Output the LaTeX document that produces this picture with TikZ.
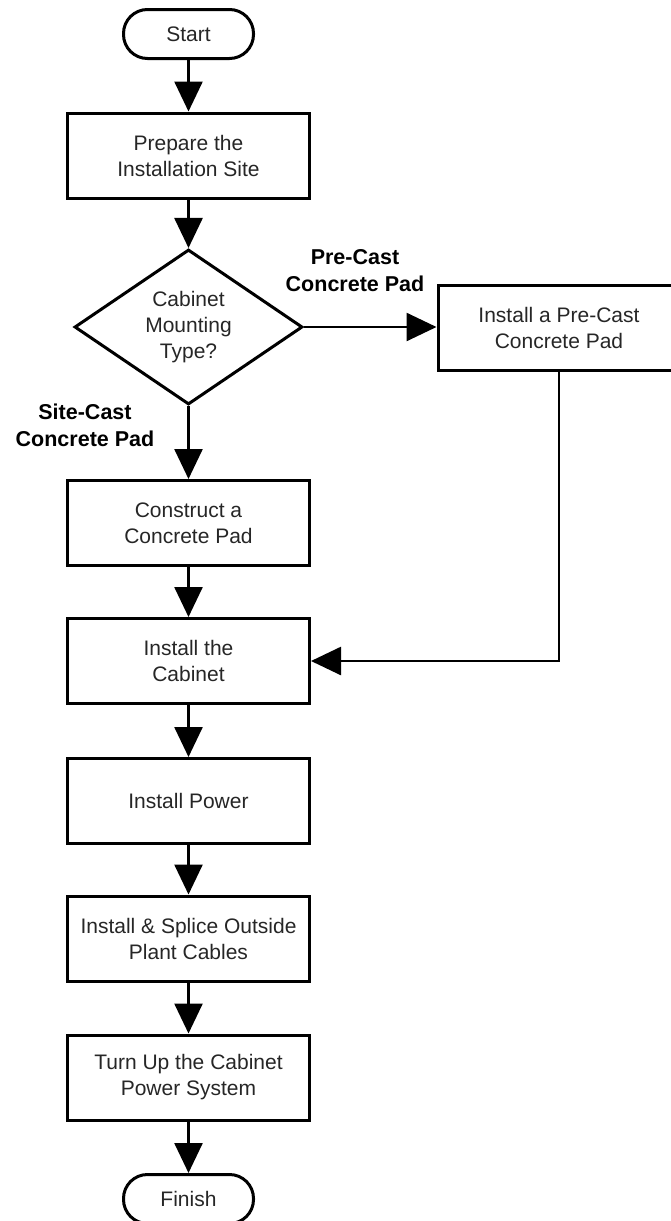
\documentclass[tikz,border=0pt]{standalone}
\usepackage{fontspec}
\setmainfont{Liberation Sans}
\usetikzlibrary{arrows.meta,shapes.geometric}
\begin{document}
\begin{tikzpicture}[x=1pt,y=1pt,
  every node/.style={font=\fontsize{21}{26}\selectfont, align=center, text=black!85},
  procbox/.style={draw, line width=3pt, rectangle, minimum width=242pt, minimum height=85pt, inner sep=0pt},
  termbox/.style={draw, line width=3pt, rounded corners=24pt, minimum width=130pt, minimum height=49pt, inner sep=0pt},
  decbox/.style={draw, line width=3pt, diamond, minimum width=228pt, minimum height=155pt, inner sep=0pt, aspect=1.47},
  flow/.style={line width=2.6pt, -{Triangle[length=30pt,width=28pt]}},
  lbl/.style={font=\bfseries\fontsize{21.5}{27}\selectfont, text=black}
]
\useasboundingbox (0,0) rectangle (671,-1221);
\clip (0,0) rectangle (671,-1221);

\node[termbox] (start) at (188.5,-34) {Start};
\node[procbox] (prep) at (188.5,-155.5) {Prepare the\\Installation Site};
\node[decbox] (dec) at (188.5,-327) {Cabinet\\Mounting\\Type?};
\node[procbox] (pre) at (559,-328) {Install a Pre-Cast\\Concrete Pad};
\node[procbox] (cons) at (188.5,-523) {Construct a\\Concrete Pad};
\node[procbox] (cab) at (188.5,-661) {Install the\\Cabinet};
\node[procbox] (pow) at (188.5,-801) {Install Power};
\node[procbox] (spl) at (188.5,-938.5) {Install \& Splice Outside\\Plant Cables};
\node[procbox] (tur) at (188.5,-1077.5) {Turn Up the Cabinet\\Power System};
\node[termbox] (fin) at (188.5,-1199) {Finish};

\node[lbl] (lpre) at (355,-271) {Pre-Cast\\Concrete Pad};
\node[lbl] (lsite) at (85,-425) {Site-Cast\\Concrete Pad};

\draw[flow] (start) -- (prep);
\draw[flow] (prep) -- (dec);
\draw[flow] (dec.east) -- (dec.east -| pre.west);
\draw[flow] (dec) -- (cons);
\draw[flow] (cons) -- (cab);
\draw[flow] (pre.south) |- (cab.east);
\draw[flow] (cab) -- (pow);
\draw[flow] (pow) -- (spl);
\draw[flow] (spl) -- (tur);
\draw[flow] (tur) -- (fin);
\end{tikzpicture}
\end{document}
